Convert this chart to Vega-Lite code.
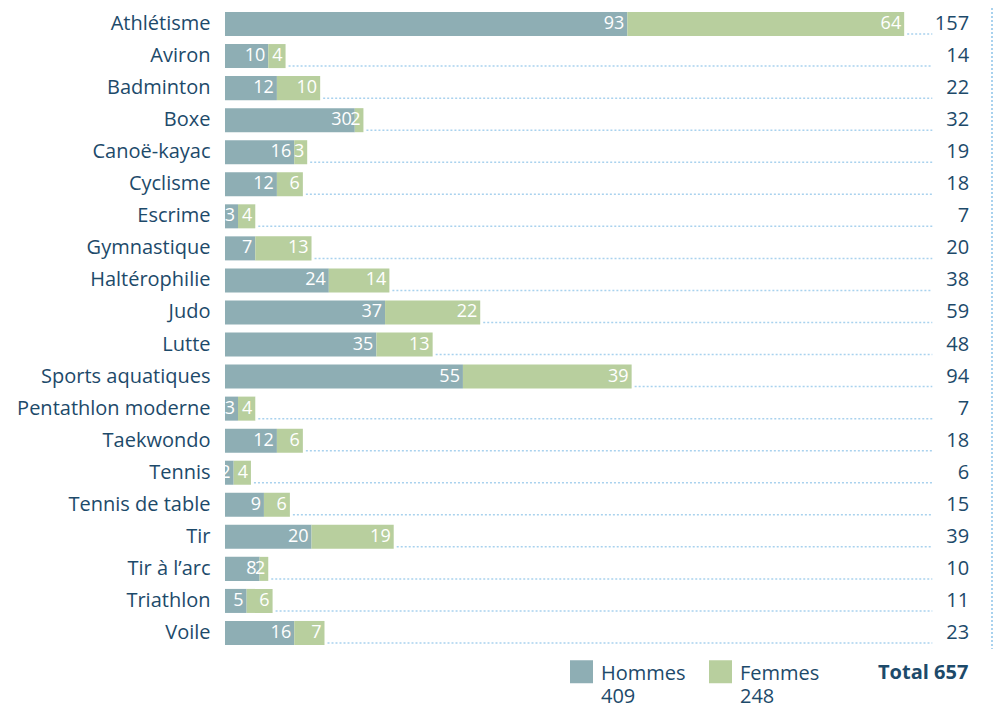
{
  "$schema": "https://vega.github.io/schema/vega-lite/v6.json",
  "autosize": "none",
  "padding": {"left": 225, "top": 8, "right": 3, "bottom": 57},
  "width": 767,
  "height": 641,
  "config": {"view": {"stroke": null}, "font": "Open Sans"},
  "data": {"values": [
    {"sport": "Athlétisme", "sexe": "Hommes", "n": 93}, {"sport": "Athlétisme", "sexe": "Femmes", "n": 64},
    {"sport": "Aviron", "sexe": "Hommes", "n": 10}, {"sport": "Aviron", "sexe": "Femmes", "n": 4},
    {"sport": "Badminton", "sexe": "Hommes", "n": 12}, {"sport": "Badminton", "sexe": "Femmes", "n": 10},
    {"sport": "Boxe", "sexe": "Hommes", "n": 30}, {"sport": "Boxe", "sexe": "Femmes", "n": 2},
    {"sport": "Canoë-kayac", "sexe": "Hommes", "n": 16}, {"sport": "Canoë-kayac", "sexe": "Femmes", "n": 3},
    {"sport": "Cyclisme", "sexe": "Hommes", "n": 12}, {"sport": "Cyclisme", "sexe": "Femmes", "n": 6},
    {"sport": "Escrime", "sexe": "Hommes", "n": 3}, {"sport": "Escrime", "sexe": "Femmes", "n": 4},
    {"sport": "Gymnastique", "sexe": "Hommes", "n": 7}, {"sport": "Gymnastique", "sexe": "Femmes", "n": 13},
    {"sport": "Haltérophilie", "sexe": "Hommes", "n": 24}, {"sport": "Haltérophilie", "sexe": "Femmes", "n": 14},
    {"sport": "Judo", "sexe": "Hommes", "n": 37}, {"sport": "Judo", "sexe": "Femmes", "n": 22},
    {"sport": "Lutte", "sexe": "Hommes", "n": 35}, {"sport": "Lutte", "sexe": "Femmes", "n": 13},
    {"sport": "Sports aquatiques", "sexe": "Hommes", "n": 55}, {"sport": "Sports aquatiques", "sexe": "Femmes", "n": 39},
    {"sport": "Pentathlon moderne", "sexe": "Hommes", "n": 3}, {"sport": "Pentathlon moderne", "sexe": "Femmes", "n": 4},
    {"sport": "Taekwondo", "sexe": "Hommes", "n": 12}, {"sport": "Taekwondo", "sexe": "Femmes", "n": 6},
    {"sport": "Tennis", "sexe": "Hommes", "n": 2}, {"sport": "Tennis", "sexe": "Femmes", "n": 4},
    {"sport": "Tennis de table", "sexe": "Hommes", "n": 9}, {"sport": "Tennis de table", "sexe": "Femmes", "n": 6},
    {"sport": "Tir", "sexe": "Hommes", "n": 20}, {"sport": "Tir", "sexe": "Femmes", "n": 19},
    {"sport": "Tir à l’arc", "sexe": "Hommes", "n": 8}, {"sport": "Tir à l’arc", "sexe": "Femmes", "n": 2},
    {"sport": "Triathlon", "sexe": "Hommes", "n": 5}, {"sport": "Triathlon", "sexe": "Femmes", "n": 6},
    {"sport": "Voile", "sexe": "Hommes", "n": 16}, {"sport": "Voile", "sexe": "Femmes", "n": 7}
  ]},
  "transform": [
    {"stack": "n", "groupby": ["sport"], "sort": [{"field": "sexe", "order": "descending"}], "as": ["x0", "x1"]}
  ],
  "layer": [
    {
      "mark": {"type": "bar"},
      "encoding": {
        "y": {
          "field": "sport", "type": "nominal", "sort": null,
          "scale": {"paddingInner": 0.25, "paddingOuter": 0.125},
          "axis": {"title": null, "domain": false, "ticks": false, "labelPadding": 15, "labelFontSize": 20, "labelLimit": 320, "labelColor": "#1d4a6a", "labelFont": "Open Sans"}
        },
        "x": {"field": "x0", "type": "quantitative", "scale": {"domain": [0, 177.3], "nice": false}, "axis": null},
        "x2": {"field": "x1"},
        "color": {
          "field": "sexe", "type": "nominal",
          "scale": {"domain": ["Hommes", "Femmes"], "range": ["#8eaeb4", "#b8cf9e"]},
          "legend": {
            "orient": "none", "legendX": 345, "legendY": 652, "direction": "horizontal", "columns": 2,
            "symbolType": "square", "symbolSize": 529, "symbolStrokeWidth": 0, "symbolOpacity": 1,
            "labelFontSize": 20, "labelColor": "#1d4a6a", "labelOffset": 8, "labelBaseline": "top",
            "labelExpr": "datum.label == 'Hommes' ? ['Hommes', '409'] : ['Femmes', '248']",
            "columnPadding": 23,
            "title": "Total 657", "titleOrient": "right", "titleFontSize": 20, "titleFontWeight": "bold",
            "titleColor": "#1d4a6a", "titlePadding": 59, "titleBaseline": "top", "titleAnchor": "start",
            "encode": {
              "labels": {"update": {"lineHeight": {"value": 23}, "dy": {"value": -8}}},
              "title": {"update": {"dy": {"value": 3}}}
            }
          }
        }
      }
    },
    {
      "mark": {"type": "text", "align": "right", "baseline": "middle", "dx": -3, "fontSize": 18, "color": "white"},
      "encoding": {
        "y": {"field": "sport", "type": "nominal", "sort": null},
        "x": {"field": "x1", "type": "quantitative"},
        "text": {"field": "n", "type": "quantitative"}
      }
    },
    {
      "transform": [{"filter": "datum.sexe == 'Femmes'"}],
      "mark": {"type": "rule", "color": "#a9d2ee", "strokeDash": [2, 2], "strokeWidth": 1.5, "yOffset": 10, "xOffset": 3},
      "encoding": {
        "y": {"field": "sport", "type": "nominal", "sort": null},
        "x": {"field": "x1", "type": "quantitative"},
        "x2": {"datum": 163.5}
      }
    },
    {
      "transform": [{"filter": "datum.sexe == 'Femmes'"}],
      "mark": {"type": "text", "align": "right", "baseline": "middle", "fontSize": 20, "color": "#1d4a6a"},
      "encoding": {
        "y": {"field": "sport", "type": "nominal", "sort": null},
        "x": {"datum": 172},
        "text": {"field": "x1", "type": "quantitative"}
      }
    },
    {
      "mark": {"type": "rule", "color": "#a9d2ee", "strokeDash": [2, 2], "strokeWidth": 1.5, "y2Offset": 36},
      "encoding": {
        "x": {"datum": 177.3}
      }
    }
  ]
}
